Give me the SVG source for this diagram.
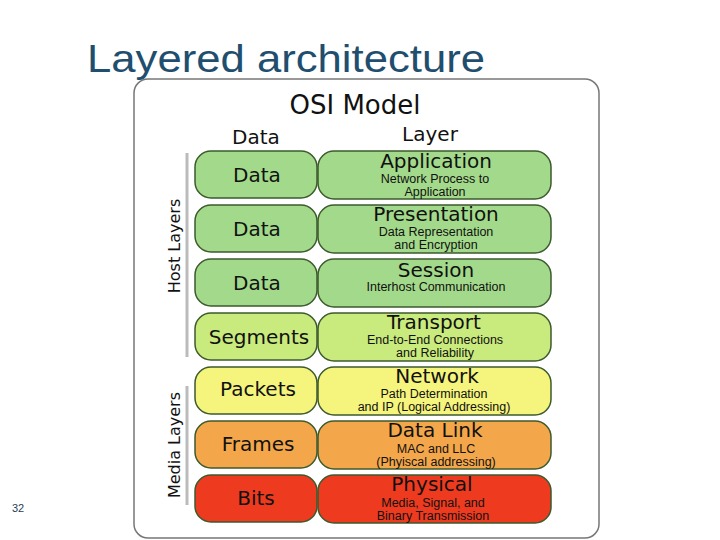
<svg xmlns="http://www.w3.org/2000/svg" width="720" height="540" viewBox="0 0 720 540">
<style>
.b{stroke:#3c5a2c;stroke-width:1.5}
.t{font-family:"DejaVu Sans",sans-serif;fill:#111;text-anchor:middle}
.big{font-size:20px}
.s{font-family:"Liberation Sans",Arial,sans-serif;font-size:12.5px;fill:#111;text-anchor:middle}
.g{fill:#a3d98a}.tr{fill:#c9ea7c}.n{fill:#f5f47c}.d{fill:#f4a74a}.p{fill:#ee3b1f}
</style>
<rect width="720" height="540" fill="#fff"/>
<text x="87" y="72" font-family="Liberation Sans,Arial,sans-serif" font-size="38" fill="#1f4e6e" textLength="398" lengthAdjust="spacingAndGlyphs">Layered architecture</text>
<text x="12" y="512" font-family="Liberation Sans,Arial,sans-serif" font-size="11" fill="#1f3e5a">32</text>
<rect x="134" y="79" width="465" height="459" rx="14" fill="#fff" stroke="#777" stroke-width="1.5"/>
<text class="t" x="355" y="114" font-size="26">OSI Model</text>
<text class="t" x="256" y="144" font-size="20">Data</text>
<text class="t" x="430" y="141" font-size="20">Layer</text>
<g id="connectors">
<line x1="187" y1="153" x2="187" y2="357" stroke="#bbb" stroke-width="3"/>
<line x1="187" y1="386" x2="187" y2="505" stroke="#bbb" stroke-width="3"/>
</g>
<text class="t" font-size="16" transform="translate(180 246) rotate(-90)">Host Layers</text>
<text class="t" font-size="16" transform="translate(180 445) rotate(-90)">Media Layers</text>
<g id="application"><rect class="b g" x="195" y="151" width="122" height="47" rx="16"/><rect class="b g" x="318" y="151" width="233" height="48" rx="16"/>
<text class="t big" x="257" y="182">Data</text><text class="t big" x="436" y="168">Application</text><text class="s" x="435" y="183">Network Process to</text><text class="s" x="435" y="196">Application</text></g>
<g id="presentation"><rect class="b g" x="195" y="205" width="122" height="47" rx="16"/><rect class="b g" x="318" y="205" width="233" height="48" rx="16"/>
<text class="t big" x="257" y="236">Data</text><text class="t big" x="436" y="221">Presentation</text><text class="s" x="436" y="236">Data Representation</text><text class="s" x="436" y="249">and Encryption</text></g>
<g id="session"><rect class="b g" x="195" y="259" width="122" height="47" rx="16"/><rect class="b g" x="318" y="259" width="233" height="48" rx="16"/>
<text class="t big" x="257" y="290">Data</text><text class="t big" x="436" y="277">Session</text><text class="s" x="436" y="291">Interhost Communication</text></g>
<g id="transport"><rect class="b tr" x="195" y="313" width="122" height="47" rx="16"/><rect class="b tr" x="318" y="313" width="233" height="48" rx="16"/>
<text class="t big" x="259" y="344">Segments</text><text class="t big" x="434" y="329">Transport</text><text class="s" x="435" y="344">End-to-End Connections</text><text class="s" x="435" y="357">and Reliability</text></g>
<g id="network"><rect class="b n" x="195" y="367" width="122" height="47" rx="16"/><rect class="b n" x="318" y="367" width="233" height="48" rx="16"/>
<text class="t big" x="258" y="396">Packets</text><text class="t big" x="437" y="383">Network</text><text class="s" x="434" y="398">Path Determination</text><text class="s" x="434" y="411">and IP (Logical Addressing)</text></g>
<g id="datalink"><rect class="b d" x="195" y="421" width="122" height="47" rx="16"/><rect class="b d" x="318" y="421" width="233" height="48" rx="16"/>
<text class="t big" x="258" y="451">Frames</text><text class="t big" x="435" y="437">Data Link</text><text class="s" x="436" y="453">MAC and LLC</text><text class="s" x="436" y="466">(Phyiscal addressing)</text></g>
<g id="physical"><rect class="b p" x="195" y="475" width="122" height="47" rx="16"/><rect class="b p" x="318" y="475" width="233" height="48" rx="16"/>
<text class="t big" x="256" y="505">Bits</text><text class="t big" x="432" y="491">Physical</text><text class="s" x="433" y="507">Media, Signal, and</text><text class="s" x="433" y="520">Binary Transmission</text></g>
</svg>
